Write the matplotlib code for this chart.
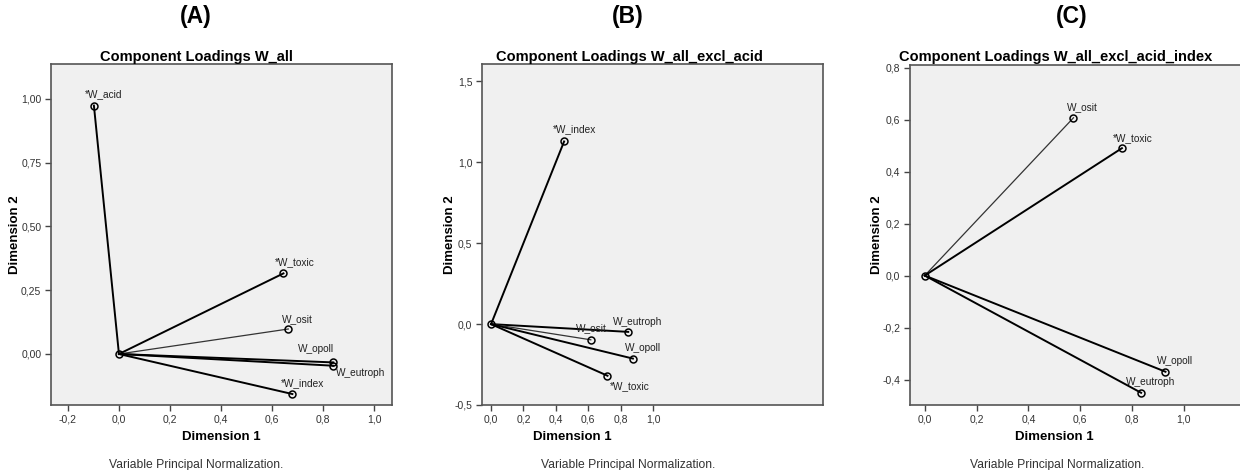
import matplotlib
matplotlib.use("Agg")
import matplotlib.pyplot as plt
from matplotlib.ticker import FuncFormatter, FixedLocator

plt.rcParams['font.family'] = ['Liberation Sans', 'DejaVu Sans']

# loadings
vars_a = ['*W_acid', '*W_toxic', 'W_osit', 'W_opoll', 'W_eutroph', '*W_index']
dim1_a = [-0.098, 0.644, 0.663, 0.839, 0.839, 0.679]
dim2_a = [0.974, 0.316, 0.098, -0.033, -0.046, -0.157]

vars_b = ['*W_index', 'W_eutroph', 'W_osit', 'W_opoll', '*W_toxic']
dim1_b = [0.451, 0.847, 0.616, 0.876, 0.719]
dim2_b = [1.129, -0.048, -0.097, -0.213, -0.319]

vars_c = ['W_osit', '*W_toxic', 'W_opoll', 'W_eutroph']
dim1_c = [0.574, 0.761, 0.929, 0.835]
dim2_c = [0.607, 0.490, -0.370, -0.451]

titles = ['Component Loadings W_all', 'Component Loadings W_all_excl_acid',
          'Component Loadings W_all_excl_acid_index']
letters = ['(A)', '(B)', '(C)']
footnote = 'Variable Principal Normalization.'

# label offsets in pixels (dx, dy up) from each marker
offs_a = [(10, 11), (11, 11), (9, 10), (-17, 13), (27, -7), (10, 11)]
offs_b = [(10, 12), (9, 10), (1, 12), (10, 11), (22, -10)]
offs_c = [(9, 11), (11, 10), (10, 11), (10, 11)]

W, H = 1240, 470
fig = plt.figure(figsize=(W / 100, H / 100), dpi=100)


def px_axes(x0, y0, x1, y1):
    return fig.add_axes([x0 / W, 1 - y1 / H, (x1 - x0) / W, (y1 - y0) / H])


def comma(dec):
    return FuncFormatter(lambda v, p: f"{v:.{dec}f}".replace('.', ','))


def draw(ax, names, d1, d2, offs, xlim, ylim, xt, yt, xdec, ydec, xl_x, yl_x):
    ax.set_facecolor('#f0f0f0')
    for n, x, y, (dx, dy) in zip(names, d1, d2, offs):
        lw = 0.9 if n == 'W_osit' else 1.4
        col = '#333333' if n == 'W_osit' else 'black'
        ax.plot([0, x], [0, y], color=col, lw=lw, zorder=2)
        ax.plot([x], [y], marker='o', ms=5, mfc='none', mec='black', mew=1.1, zorder=3)
        ax.annotate(n, (x, y), xytext=(dx, dy), textcoords='offset pixels',
                    ha='center', va='center', fontsize=7.3, color='#222222')
    ax.plot([0], [0], marker='o', ms=5, mfc='none', mec='black', mew=1.1, zorder=3)
    ax.set_xlim(*xlim)
    ax.set_ylim(*ylim)
    ax.xaxis.set_major_locator(FixedLocator(xt))
    ax.yaxis.set_major_locator(FixedLocator(yt))
    ax.xaxis.set_major_formatter(comma(xdec))
    ax.yaxis.set_major_formatter(comma(ydec))
    ax.tick_params(direction='out', length=4, width=1, color='#444444',
                   labelsize=7.5, labelcolor='#333333', pad=3)
    for s in ax.spines.values():
        s.set_color('#555555')
        s.set_linewidth(1.2)
    ax.set_xlabel('Dimension 1', fontsize=9.5, fontweight='bold')
    ax.set_ylabel('Dimension 2', fontsize=9.5, fontweight='bold')
    ax.xaxis.set_label_coords(xl_x, -0.077)
    ax.yaxis.set_label_coords(yl_x, 0.5)


axA = px_axes(51, 64, 392, 405)
draw(axA, vars_a, dim1_a, dim2_a, offs_a, (-0.266, 1.069), (-0.2, 1.137),
     [-0.2, 0, 0.2, 0.4, 0.6, 0.8, 1.0], [0, 0.25, 0.5, 0.75, 1.0], 1, 2,
     0.5, -0.088)

axB = px_axes(482, 64, 823, 405)
draw(axB, vars_b, dim1_b, dim2_b, offs_b, (-0.056, 2.05), (-0.5, 1.608),
     [0, 0.2, 0.4, 0.6, 0.8, 1.0], [-0.5, 0, 0.5, 1.0, 1.5], 1, 1,
     0.264, -0.076)

axC = px_axes(910, 65, 1245, 405)
draw(axC, vars_c, dim1_c, dim2_c, offs_c, (-0.057, 1.236), (-0.498, 0.81),
     [0, 0.2, 0.4, 0.6, 0.8, 1.0], [-0.4, -0.2, 0, 0.2, 0.4, 0.6, 0.8], 1, 1,
     0.43, -0.081)

for xc, lt in zip([196, 628, 1072], letters):
    fig.text(xc / W, 1 - 17 / H, lt, ha='center', va='center', fontsize=16.5, fontweight='bold')
for xc, tt in zip([196, 629, 1056], titles):
    fig.text(xc / W, 1 - 57 / H, tt, ha='center', va='center', fontsize=10.5, fontweight='bold')
for xc in [196, 628, 1057]:
    fig.text(xc / W, 1 - 465 / H, footnote, ha='center', va='center',
             fontsize=8.7, color='#333333')

fig.savefig('out.png', dpi=100)
